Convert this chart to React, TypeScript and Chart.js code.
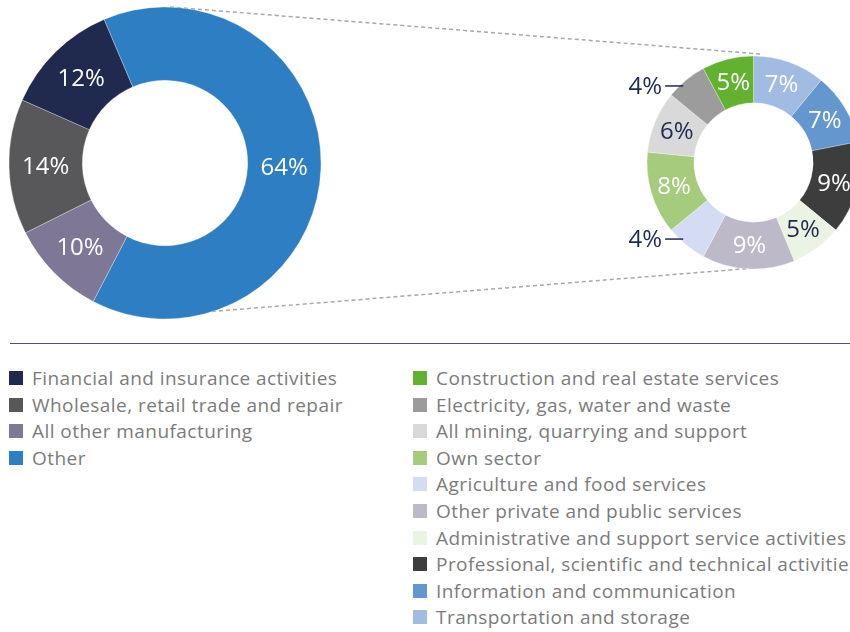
import React, { useEffect, useRef } from "react";
import { Chart, registerables } from "chart.js";

Chart.register(...registerables);

// ---- Data ----
const bigCategories = [
  "Other",
  "All other manufacturing",
  "Wholesale, retail trade and repair",
  "Financial and insurance activities",
];
const bigValues = [64, 10, 14, 12];
const bigColors = ["#2e7ec3", "#7e7896", "#58585a", "#1f2a4e"];

const smallCategories = [
  "Transportation and storage",
  "Information and communication",
  "Professional, scientific and technical activities",
  "Administrative and support service activities",
  "Other private and public services",
  "Agriculture and food services",
  "Own sector",
  "All mining, quarrying and support",
  "Electricity, gas, water and waste",
  "Construction and real estate services",
];
const smallValues = [7, 7, 9, 5, 9, 4, 8, 6, 4, 5];
const smallColors = [
  "#a2bbe2",
  "#6597cf",
  "#3d3d3d",
  "#ebf3e3",
  "#bdb9c9",
  "#d3dcf3",
  "#a5cb7c",
  "#d9d9d9",
  "#9c9c9c",
  "#62b22f",
];

const NAVY = "#1f2a4e";
const LABEL_FONT = '400 24px "Open Sans"';

function luminance(hex: string) {
  const h = hex.replace("#", "");
  const r = parseInt(h.slice(0, 2), 16) / 255;
  const g = parseInt(h.slice(2, 4), 16) / 255;
  const b = parseInt(h.slice(4, 6), 16) / 255;
  return 0.299 * r + 0.587 * g + 0.114 * b;
}

const sliceLabels = {
  id: "sliceLabels",
  afterDatasetsDraw(chart: any) {
    const ctx = chart.ctx;
    const meta = chart.getDatasetMeta(0);
    const ds = chart.data.datasets[0];
    ctx.save();
    ctx.font = LABEL_FONT;
    ctx.textBaseline = "middle";
    meta.data.forEach((arc: any, i: number) => {
      const v = ds.data[i] as number;
      const { x, y, startAngle, endAngle, innerRadius, outerRadius } = arc.getProps(
        ["x", "y", "startAngle", "endAngle", "innerRadius", "outerRadius"],
        true
      );
      const mid = (startAngle + endAngle) / 2;
      const text = `${v}%`;
      const bg = (ds.backgroundColor as string[])[i];
      if (v < 5) {
        // outside label with leader line
        const R = outerRadius;
        const side = Math.cos(mid) < 0 ? -1 : 1;
        const ly = y + Math.sin(mid) * R * 0.93;
        const lineEnd = x + side * R * 0.66;
        const lineStart = x + side * R * 0.83;
        ctx.strokeStyle = NAVY;
        ctx.lineWidth = 1.5;
        ctx.beginPath();
        ctx.moveTo(lineStart, ly);
        ctx.lineTo(lineEnd, ly);
        ctx.stroke();
        ctx.fillStyle = NAVY;
        ctx.textAlign = side < 0 ? "right" : "left";
        ctx.fillText(text, lineStart + side * 3, ly + 1);
      } else {
        const r = (innerRadius + outerRadius) / 2;
        const px = x + Math.cos(mid) * r;
        const py = y + Math.sin(mid) * r;
        ctx.fillStyle = luminance(bg) > 0.8 ? NAVY : "#ffffff";
        ctx.textAlign = "center";
        ctx.fillText(text, px, py + 1);
      }
    });
    ctx.restore();
  },
};

function Doughnut(props: {
  labels: string[];
  values: number[];
  colors: string[];
  rotation: number;
  radius: number;
  cutout: string;
  width: number;
  height: number;
  style: React.CSSProperties;
}) {
  const ref = useRef<HTMLCanvasElement | null>(null);
  useEffect(() => {
    if (!ref.current) return;
    const chart = new Chart(ref.current, {
      type: "doughnut",
      data: {
        labels: props.labels,
        datasets: [
          {
            data: props.values,
            backgroundColor: props.colors,
            borderColor: "rgba(255,255,255,0.6)",
            borderWidth: 0.5,
          },
        ],
      },
      options: {
        animation: false,
        responsive: false,
        devicePixelRatio: 1,
        rotation: props.rotation,
        radius: props.radius,
        cutout: props.cutout,
        layout: { padding: 0 },
        plugins: {
          legend: { display: false },
          tooltip: { enabled: false },
        },
      },
      plugins: [sliceLabels],
    });
    return () => chart.destroy();
  }, []);
  return (
    <canvas
      ref={ref}
      width={props.width}
      height={props.height}
      style={{ position: "absolute", width: props.width, height: props.height, ...props.style }}
    />
  );
}

function LegendColumn(props: { items: string[]; colors: string[]; left: number; top: number }) {
  return (
    <div style={{ position: "absolute", left: props.left, top: props.top }}>
      {props.items.map((t, i) => (
        <div
          key={t}
          style={{ display: "flex", alignItems: "center", height: 26.6, whiteSpace: "nowrap" }}
        >
          <span
            style={{
              display: "inline-block",
              width: 14,
              height: 14,
              background: props.colors[i],
              marginRight: 9,
              flex: "none",
            }}
          />
          <span
            style={{
              color: "#7b7b7b",
              fontSize: 19,
              letterSpacing: 0.45,
              fontFamily: '"Open Sans"',
            }}
          >
            {t}
          </span>
        </div>
      ))}
    </div>
  );
}

export default function App() {
  const rev = <T,>(a: T[]) => a.slice().reverse();
  return (
    <div
      style={{
        position: "absolute",
        left: 0,
        top: 0,
        width: 850,
        height: 632,
        overflow: "hidden",
        background: "#ffffff",
        fontFamily: '"Open Sans", sans-serif',
      }}
    >
      <svg
        width={850}
        height={632}
        style={{ position: "absolute", left: 0, top: 0, pointerEvents: "none" }}
      >
        <line x1={170} y1={7} x2={760} y2={54} stroke="#a8a8a8" strokeWidth={1.5} strokeDasharray="4 3" />
        <line x1={205} y1={312} x2={755} y2={268} stroke="#a8a8a8" strokeWidth={1.5} strokeDasharray="4 3" />
      </svg>
      <Doughnut
        labels={bigCategories}
        values={bigValues}
        colors={bigColors}
        rotation={-23}
        radius={156}
        cutout="53%"
        width={330}
        height={326}
        style={{ left: 0, top: 0 }}
      />
      <Doughnut
        labels={smallCategories}
        values={smallValues}
        colors={smallColors}
        rotation={0}
        radius={106.5}
        cutout="56%"
        width={301}
        height={281}
        style={{ left: 603, top: 22 }}
      />
      <div
        style={{
          position: "absolute",
          left: 10,
          top: 343,
          width: 840,
          height: 0,
          borderTop: "1.5px solid #4b5177",
        }}
      />
      <LegendColumn items={rev(bigCategories)} colors={rev(bigColors)} left={9} top={364.7} />
      <LegendColumn items={rev(smallCategories)} colors={rev(smallColors)} left={413} top={364.7} />
    </div>
  );
}
